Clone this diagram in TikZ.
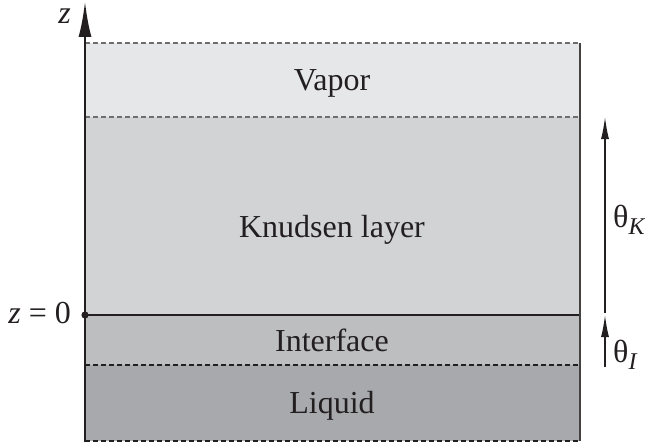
\documentclass[tikz,border=0pt]{standalone}
\usepackage{fontspec}
\setmainfont{Liberation Serif}
\usetikzlibrary{arrows.meta}
\definecolor{vapc}{HTML}{E6E7E8}
\definecolor{knuc}{HTML}{D1D3D4}
\definecolor{intc}{HTML}{BCBEC0}
\definecolor{liqc}{HTML}{A7A9AC}
\definecolor{edgec}{HTML}{231F20}
\begin{document}
\begin{tikzpicture}[x=1pt,y=-1pt,
  lbl/.style={inner sep=0pt,anchor=base,font=\fontsize{32}{38}\selectfont,text=edgec},
  dashlight/.style={draw=edgec!65,line width=1.3pt,dash pattern=on 5pt off 3pt},
  dashdark/.style={draw=edgec,line width=1.2pt,dash pattern=on 5pt off 3pt},
  solidline/.style={draw=edgec,line width=1.1pt},
  dimarrow/.style={draw=edgec,line width=1.3pt,-{Latex[length=22pt,width=8pt]}},
  axisarrow/.style={draw=edgec,line width=2.8pt,-{Latex[length=36pt,width=13pt]}}]
\useasboundingbox (0,0) rectangle (645,444);
% regions
\fill[vapc] (85,43) rectangle (580,117);
\fill[knuc] (85,117) rectangle (580,315);
\fill[intc] (85,315) rectangle (580,365);
\fill[liqc] (85,365) rectangle (580,441);
% coordinates
\coordinate (tl) at (85,43);
\coordinate (tr) at (580,43);
\coordinate (vl) at (85,117);
\coordinate (vr) at (580,117);
\coordinate (kl) at (85,315);
\coordinate (kr) at (580,315);
\coordinate (il) at (85,365);
\coordinate (ir) at (580,365);
\coordinate (bl) at (85,441);
\coordinate (br) at (580,441);
% borders
\draw[dashlight] (tl) -- (tr);
\draw[dashlight] (vl) -- (vr);
\draw[solidline] (kl) -- (kr);
\draw[dashdark] (il) -- (ir);
\draw[dashdark,line width=1.6pt] (bl) -- (br);
\draw[draw=edgec!85,line width=1.3pt] (tr) -- (br);
% axis
\coordinate (axb) at (85,442);
\coordinate (axt) at (85,1);
\draw[axisarrow] (axb) -- (axt);
\fill[edgec] (kl) circle (3.6pt);
% labels
\node[lbl] (vap) at (332,90) {Vapor};
\node[lbl] (knu) at (332,237) {Knudsen layer};
\node[lbl] (int) at (332,351) {Interface};
\node[lbl] (liq) at (332,413) {Liquid};
\node[lbl,anchor=base east] (zlab) at (71,24) {\itshape z};
\node[lbl,anchor=base east] (z0) at (71,323) {\textit{z} = 0};
% dimension arrows
\coordinate (kb) at (605,313);
\coordinate (kt) at (605,117);
\coordinate (ib) at (605,367);
\coordinate (it) at (605,315);
\draw[dimarrow] (kb) -- (kt);
\draw[dimarrow] (ib) -- (it);
\node[lbl,anchor=base west] (thk) at (613,227) {θ\raisebox{-7pt}{\fontsize{24}{28}\selectfont\itshape K}};
\node[lbl,anchor=base west] (thi) at (613,362) {θ\raisebox{-7pt}{\fontsize{24}{28}\selectfont\itshape I}};
\end{tikzpicture}
\end{document}
